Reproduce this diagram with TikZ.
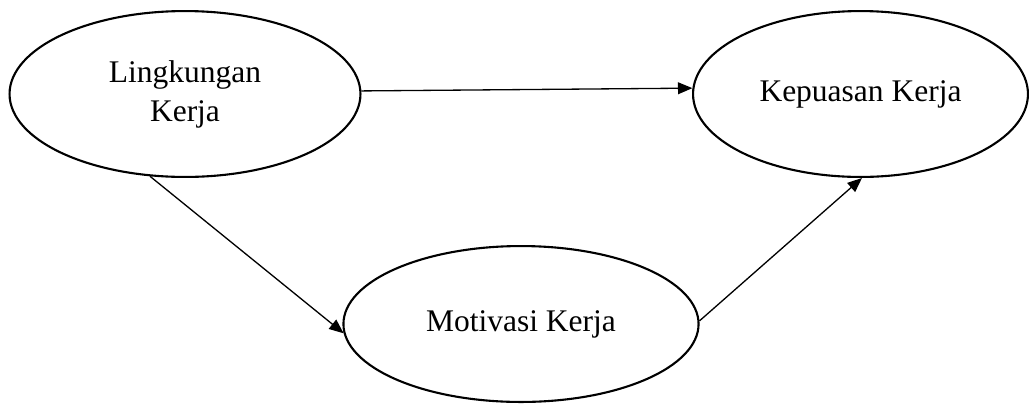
\documentclass[tikz,border=0pt]{standalone}
\usepackage{fontspec}
\setmainfont{Liberation Serif}
\usetikzlibrary{shapes.geometric,arrows.meta}

\begin{document}
\begin{tikzpicture}[x=0.381pt, y=-0.381pt,
  variabel/.style={ellipse, draw, line width=0.8pt, inner sep=0pt, align=center,
    font=\fontsize{12}{14.9}\selectfont},
  panah/.style={-{Triangle[length=5.5pt,width=4.5pt]}, line width=0.5pt}]
% Lingkungan Kerja -> Motivasi Kerja -> Kepuasan Kerja
\useasboundingbox (0,0) rectangle (1029,403);
\node (lk) at (185,94) [variabel, minimum width=133.7pt, minimum height=63.2pt] {\raisebox{-2.2pt}{\begin{tabular}{@{}c@{}}Lingkungan\\Kerja\end{tabular}}};
\node (kp) at (860.5,94) [variabel, minimum width=127.6pt, minimum height=63.2pt] {Kepuasan Kerja};
\node (mk) at (521,324) [variabel, minimum width=135.3pt, minimum height=59.4pt] {Motivasi Kerja};
\draw[panah] (lk.1) -- (kp.178);
\draw[panah] (lk.-113) -- (mk.183);
\draw[panah] (mk.1) -- (kp.-89);
\end{tikzpicture}
\end{document}
